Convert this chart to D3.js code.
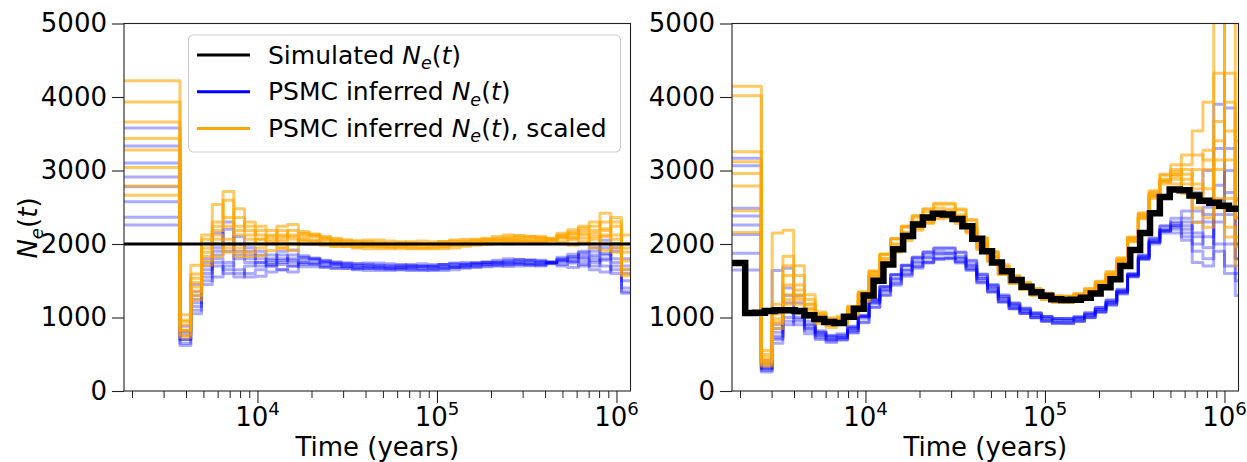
<!DOCTYPE html>
<html><head><meta charset="utf-8">
<script src="https://cdn.jsdelivr.net/npm/d3@7"></script>
<style>
body{margin:0;background:#fff;}
svg text{font-family:"DejaVu Sans",sans-serif;fill:#000;}
</style></head><body>
<svg id="chart" width="1247" height="462"></svg>
<script>
// ---------------- DATA ----------------
const yTicks = [0, 1000, 2000, 3000, 4000, 5000];
const xMajorTicks = [1e4, 1e5, 1e6];
const xMajorExp = ["4", "5", "6"];
const xMinorTicks = [2000,3000,4000,5000,6000,7000,8000,9000,
  20000,30000,40000,50000,60000,70000,80000,90000,
  200000,300000,400000,500000,600000,700000,800000,900000];

// Left panel: simulated constant size
const simBreaksLeft = [];
const simValuesLeft = [2000];

// Left panel: PSMC time breakpoints (years)
const psmcBreaksLeft = [3700,4250,4880,5600,6430,7380,8470,9730,11170,12820,14720,16900,19410,22280,25590,29380,33730,38730,44460,51050,58610,67300,77270,88720,101900,117000,134300,154200,177000,203200,233300,267900,307600,353200,405500,465600,534600,613800,704700,809100,929000,1066600,1224600];

// Left panel: PSMC inferred Ne(t), one array per replicate
const psmcLeft1 = [3578,700,1200,1600,1900,2300,2000,1850,1800,1720,1750,1800,1810,1795,1770,1760,1745,1730,1725,1710,1690,1680,1670,1660,1660,1660,1680,1710,1730,1745,1760,1775,1790,1785,1770,1750,1790,1830,1880,1850,1950,1800,1500];
const psmcLeft2 = [3333,820,1350,1750,1700,1650,1600,1550,1560,1620,1650,1700,1720,1720,1690,1670,1665,1660,1670,1670,1660,1650,1640,1640,1650,1670,1690,1710,1730,1740,1740,1735,1730,1715,1700,1730,1700,1680,1720,1650,1620,1700,1350];
const psmcLeft3 = [3102,650,1100,1500,1850,1900,2100,1900,1750,1700,1780,1850,1840,1810,1780,1750,1730,1730,1740,1740,1730,1720,1710,1700,1700,1720,1740,1750,1750,1750,1745,1755,1770,1775,1780,1760,1800,1770,1850,1900,2050,1950,1700];
const psmcLeft4 = [2912,760,1300,1700,1750,1600,1550,1700,1750,1800,1850,1780,1750,1730,1700,1700,1700,1700,1710,1710,1710,1710,1700,1690,1680,1680,1680,1680,1680,1690,1705,1725,1740,1745,1750,1745,1770,1800,1760,1820,1780,1650,1400];
const psmcLeft5 = [2780,880,1450,1800,2150,2000,1800,1750,1700,1750,1900,1920,1820,1800,1760,1730,1700,1680,1670,1660,1660,1670,1680,1690,1700,1720,1730,1730,1740,1760,1780,1800,1790,1775,1760,1740,1760,1740,1700,1750,1850,2000,1800];
const psmcLeft6 = [2576,620,1050,1450,1550,1700,1850,1950,1900,1850,1800,1750,1690,1690,1680,1670,1670,1650,1640,1640,1640,1650,1650,1650,1640,1640,1650,1670,1690,1700,1700,1695,1700,1705,1710,1735,1720,1760,1800,1780,1700,1600,1330];
const psmcLeft7 = [2363,700,1250,1650,1800,1750,1650,1600,1650,1700,1650,1620,1740,1740,1730,1730,1730,1710,1700,1680,1670,1680,1690,1700,1690,1690,1690,1690,1700,1720,1740,1755,1750,1735,1720,1748,1780,1820,1900,1950,1870,1750,1600];
const psmcLeft8 = [2258,800,1150,1550,1950,2200,1900,1800,1850,1780,1720,1700,1780,1780,1750,1720,1690,1670,1680,1690,1690,1700,1720,1730,1720,1720,1720,1720,1720,1720,1720,1715,1720,1725,1730,1755,1820,1860,1820,1700,1800,1900,1650];
const scaleFactorLeft = 1.18;   // orange = inferred x this factor

// Right panel: simulated Ne(t)
const simBreaksRight = [2138,2427,2754,3126,3548,4027,4571,5188,5888,6683,7586,8610,9772,11092,12589,14289,16218,18408,20893,23714,26915,30549,34674,39355,44668,50699,57544,65313,74131,84140,95499,108393,123027,139637,158489,179887,204174,231739,263027,298538,338844,384592,436516,495450,562341,638263,724436,822243,933254,1059254,1202264];
const simValuesRight = [1740,1060,1065,1090,1100,1100,1090,1030,980,940,925,1010,1120,1300,1500,1720,1930,2110,2265,2360,2410,2400,2340,2240,2070,1900,1750,1630,1510,1420,1345,1295,1250,1238,1240,1270,1325,1410,1520,1700,1920,2150,2420,2640,2740,2730,2660,2590,2560,2520,2480];

// Right panel: PSMC time breakpoints (years)
const psmcBreaksRight = [2630,3020,3467,3981,4571,5248,6026,6918,7943,9120,10471,12023,13804,15849,18197,20893,23988,27542,31623,36308,41687,47863,54954,63096,72444,83176,95499,109648,125893,144544,165959,190546,218776,251189,288403,331131,380189,436516,501187,575440,660693,758578,870964,1000000,1148154,1318257];

const psmcRight1 = [3166,300,700,1000,1050,900,780,700,720,850,1020,1230,1420,1580,1710,1820,1890,1940,1940,1880,1770,1590,1450,1310,1200,1130,1065,1015,985,980,1000,1045,1115,1210,1360,1590,1840,2070,2240,2300,2250,2100,2300,3900,2700,2000,2000];
const psmcRight2 = [3066,380,1640,1670,1200,950,800,740,760,880,1020,1190,1350,1480,1600,1700,1760,1810,1810,1760,1660,1500,1360,1220,1125,1060,1000,955,930,930,955,1005,1080,1185,1340,1560,1800,2020,2180,2200,2100,1900,1800,2300,3850,2600,2600];
const psmcRight3 = [2486,320,800,1200,1000,850,750,720,730,820,1010,1240,1420,1580,1710,1820,1890,1950,1950,1890,1780,1590,1440,1290,1180,1115,1055,1010,985,985,1010,1065,1140,1240,1385,1600,1850,2080,2250,2350,2450,2700,3000,3300,2400,1800,1800];
const psmcRight4 = [2380,280,650,900,950,820,720,680,700,800,940,1140,1300,1440,1560,1670,1740,1790,1800,1740,1640,1470,1345,1210,1120,1055,995,950,922,922,950,1000,1075,1170,1320,1550,1790,2000,2150,2150,2050,1750,1700,1900,1600,1300,1300];
const psmcRight5 = [2260,420,900,1300,1100,900,800,760,780,870,1030,1250,1420,1580,1700,1800,1860,1900,1890,1830,1730,1560,1430,1290,1190,1120,1060,1015,988,985,1010,1060,1135,1230,1375,1590,1830,2050,2200,2250,2200,2300,2500,2800,3300,2000,2000];
const psmcRight6 = [2130,260,750,1100,900,780,700,660,690,790,930,1140,1310,1460,1580,1690,1750,1800,1810,1760,1660,1480,1350,1210,1120,1055,995,950,922,920,945,995,1070,1170,1325,1560,1800,2030,2180,2250,2350,2450,2400,2000,1700,1500,1500];
const psmcRight7 = [1873,350,850,1400,1300,1000,820,750,750,860,1010,1210,1380,1530,1650,1760,1820,1870,1870,1810,1700,1530,1400,1260,1160,1090,1030,985,960,960,985,1035,1110,1210,1355,1580,1820,2040,2190,2280,2300,2150,1950,2600,2000,1600,1600];
const psmcRight8 = [1646,310,720,950,980,860,760,700,720,830,990,1200,1370,1520,1640,1740,1810,1860,1860,1800,1700,1530,1395,1255,1155,1088,1028,982,958,958,983,1033,1108,1205,1350,1570,1810,2020,2170,2230,2150,2000,2100,2400,3000,1800,1800];
const scaleFactorRight = 1.31;

const legendLabels = ["Simulated", "PSMC inferred", "PSMC inferred"];
const legendSuffix = ["", "", ", scaled"];

// ---------------- DRAW ----------------
const svg = d3.select("#chart");
const FS = 26, LFS = 25;
const yTop = 23.5, yBot = 391;
const xDomain = [1805, 1197000];
const tMin = 500, tMax = 3e6;
const COL_BLUE = "#0000ff", COL_ORANGE = "#ffa500";

const panels = [
  {id:"L", x0:124, x1:630.5, simB:simBreaksLeft, simV:simValuesLeft, simW:3,
   breaks:psmcBreaksLeft, reps:[psmcLeft1,psmcLeft2,psmcLeft3,psmcLeft4,psmcLeft5,psmcLeft6,psmcLeft7,psmcLeft8],
   scale:scaleFactorLeft, ylabel:true, legend:true},
  {id:"R", x0:732, x1:1238.5, simB:simBreaksRight, simV:simValuesRight, simW:6.5,
   breaks:psmcBreaksRight, reps:[psmcRight1,psmcRight2,psmcRight3,psmcRight4,psmcRight5,psmcRight6,psmcRight7,psmcRight8],
   scale:scaleFactorRight, ylabel:false, legend:false}
];

function stepPoints(breaks, values){
  const pts = [[tMin, values[0]]];
  for (let i=0;i<breaks.length;i++){
    if (i+1 < values.length) pts.push([breaks[i], values[i+1]]);
  }
  pts.push([tMax, values[values.length-1]]);
  return pts;
}

function mathNe(sel, prefix, suffix, size){
  sel.append("tspan").text(prefix);
  sel.append("tspan").attr("font-style","italic").text("N");
  sel.append("tspan").attr("font-style","italic").attr("font-size", size*0.7).attr("dy", size*0.22).text("e");
  sel.append("tspan").attr("dy", -size*0.22).text("(");
  sel.append("tspan").attr("font-style","italic").text("t");
  sel.append("tspan").text(")" + suffix);
}

panels.forEach(p => {
  const x = d3.scaleLog().domain(xDomain).range([p.x0, p.x1]);
  const y = d3.scaleLinear().domain([0,5000]).range([yBot, yTop]);
  const g = svg.append("g");

  const clipId = "clip"+p.id;
  svg.append("clipPath").attr("id", clipId).append("rect")
    .attr("x", p.x0).attr("y", yTop).attr("width", p.x1-p.x0).attr("height", yBot-yTop);

  const line = d3.line().x(d=>x(d[0])).y(d=>y(d[1])).curve(d3.curveStepAfter);
  const plot = g.append("g").attr("clip-path", `url(#${clipId})`);

  p.reps.forEach(r => {
    plot.append("path").attr("d", line(stepPoints(p.breaks, r)))
      .attr("fill","none").attr("stroke",COL_BLUE).attr("stroke-opacity",0.33)
      .attr("stroke-width",3).attr("stroke-linejoin","round");
  });
  p.reps.forEach(r => {
    const scaled = r.map(v => v * p.scale);
    plot.append("path").attr("d", line(stepPoints(p.breaks, scaled)))
      .attr("fill","none").attr("stroke",COL_ORANGE).attr("stroke-opacity",0.6)
      .attr("stroke-width",3).attr("stroke-linejoin","round");
  });
  plot.append("path").attr("d", line(stepPoints(p.simB, p.simV)))
    .attr("fill","none").attr("stroke","#000").attr("stroke-width",p.simW)
    .attr("stroke-linejoin","miter");

  // spines
  g.append("rect").attr("x",p.x0).attr("y",yTop).attr("width",p.x1-p.x0).attr("height",yBot-yTop)
    .attr("fill","none").attr("stroke","#222").attr("stroke-width",1.1);

  // y axis
  const ya = g.append("g").attr("transform",`translate(${p.x0},0)`)
    .call(d3.axisLeft(y).tickValues(yTicks).tickSize(12).tickPadding(5).tickFormat(d3.format("d")));
  ya.select(".domain").remove();
  ya.selectAll("line").attr("stroke","#222").attr("stroke-width",1.1);
  ya.selectAll("text").attr("font-size",FS).attr("font-family","DejaVu Sans").attr("fill","#000");

  // x minor
  const xm = g.append("g").attr("transform",`translate(0,${yBot})`)
    .call(d3.axisBottom(x).tickValues(xMinorTicks).tickSize(7).tickFormat(""));
  xm.select(".domain").remove();
  xm.selectAll("line").attr("stroke","#222").attr("stroke-width",1);

  // x major
  const xa = g.append("g").attr("transform",`translate(0,${yBot})`)
    .call(d3.axisBottom(x).tickValues(xMajorTicks).tickSize(12).tickFormat(""));
  xa.select(".domain").remove();
  xa.selectAll("line").attr("stroke","#222").attr("stroke-width",1.1);
  xMajorTicks.forEach((t,i) => {
    const tx = g.append("text").attr("x", x(t)).attr("y", 426)
      .attr("font-size",FS).attr("text-anchor","middle");
    tx.append("tspan").text("10");
    tx.append("tspan").attr("font-size",FS*0.7).attr("dy",-11).text(xMajorExp[i]);
  });

  g.append("text").attr("x",(p.x0+p.x1)/2).attr("y",456).attr("text-anchor","middle")
    .attr("font-size",FS).text("Time (years)");

  if (p.ylabel){
    const yl = g.append("text").attr("transform",`translate(37,228) rotate(-90)`)
      .attr("text-anchor","middle").attr("font-size",FS);
    mathNe(yl, "", "", FS);
  }

  if (p.legend){
    const lg = g.append("g");
    lg.append("rect").attr("x",188.5).attr("y",35).attr("width",432).attr("height",117)
      .attr("rx",5).attr("fill","#fff").attr("fill-opacity",0.8)
      .attr("stroke","#cccccc").attr("stroke-width",1.1);
    const cols = ["#000", COL_BLUE, COL_ORANGE];
    legendLabels.forEach((lab,i) => {
      const yy = 55 + i*36.7;
      lg.append("line").attr("x1",197).attr("x2",250).attr("y1",yy).attr("y2",yy)
        .attr("stroke",cols[i]).attr("stroke-width",3);
      const t = lg.append("text").attr("x",268).attr("y",yy+8.5).attr("font-size",LFS);
      mathNe(t, lab+" ", legendSuffix[i], LFS);
    });
  }
});
</script>
</body></html>
